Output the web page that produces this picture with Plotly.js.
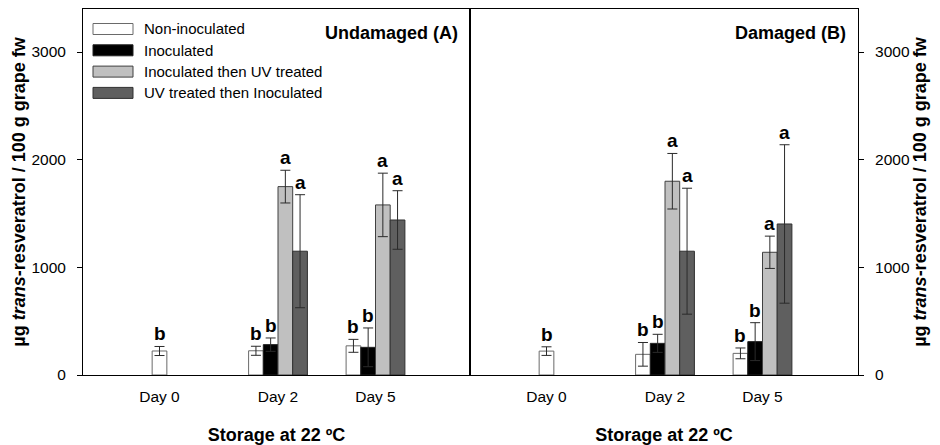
<!DOCTYPE html>
<html>
<head>
<meta charset="utf-8">
<script src="https://cdn.plot.ly/plotly-3.0.1.min.js"></script>
<style>html,body{margin:0;padding:0;background:#fff;}#chart{width:940px;height:445px;}</style>
</head>
<body>
<div id="chart"></div>
<script>
// ---- data ----
const days = ['Day 0', 'Day 2', 'Day 5'];
const seriesNames = ['Non-inoculated', 'Inoculated', 'Inoculated then UV treated', 'UV treated then Inoculated'];

// Undamaged (A)
const undNonInoc   = [223, 225, 271];
const undInoc      = [null, 282, 257];
const undInocUV    = [null, 1750, 1580];
const undUVInoc    = [null, 1150, 1440];
const undNonInocErr = [42, 42, 60];
const undInocErr    = [null, 62, 180];
const undInocUVErr  = [null, 152, 295];
const undUVInocErr  = [null, 525, 272];
const undLetters = [['b', null, null, null], ['b', 'b', 'a', 'a'], ['b', 'b', 'a', 'a']];

// Damaged (B)
const damNonInoc   = [222, 192, 201];
const damInoc      = [null, 294, 310];
const damInocUV    = [null, 1800, 1140];
const damUVInoc    = [null, 1150, 1403];
const damNonInocErr = [40, 110, 50];
const damInocErr    = [null, 84, 176];
const damInocUVErr  = [null, 258, 150];
const damUVInocErr  = [null, 585, 736];
const damLetters = [['b', null, null, null], ['b', 'b', 'a', 'a'], ['b', 'b', 'a', 'a']];

const yTitle = 'µg <i>trans</i>-resveratrol / 100 g grape fw';
const xTitle = 'Storage at 22 ºC';
const panelTitles = ['Undamaged (A)', 'Damaged (B)'];

// ---- styles / layout constants ----
const FONT = '"Liberation Sans Narrow", "Arial Narrow", "Liberation Sans", Arial, sans-serif';
const fills = ['#ffffff', '#000000', '#c0c0c0', '#5f5f5f'];
const outlines = ['#6a6a6a', '#202020', '#404040', '#303030'];
const dayPos = [76.5, 195, 292.5];   // category centres along each panel's axis
const barW = 14.7;

const panels = [
  {vals: [undNonInoc, undInoc, undInocUV, undUVInoc], errs: [undNonInocErr, undInocErr, undInocUVErr, undUVInocErr], letters: undLetters, xa: 'x', ya: 'y'},
  {vals: [damNonInoc, damInoc, damInocUV, damUVInoc], errs: [damNonInocErr, damInocErr, damInocUVErr, damUVInocErr], letters: damLetters, xa: 'x2', ya: 'y2'}
];

// offsets: centre the bars present in each day group
function offsetsFor(vals) {
  const offs = vals.map(() => days.map(() => null));
  days.forEach((d, di) => {
    const present = vals.map((s, si) => s[di] != null ? si : -1).filter(i => i >= 0);
    const n = present.length;
    present.forEach((si, k) => { offs[si][di] = (k - n / 2) * barW; });
  });
  return offs;
}

const traces = [];
const annotations = [];
panels.forEach((p, pi) => {
  const offs = offsetsFor(p.vals);
  p.vals.forEach((vals, si) => {
    traces.push({
      type: 'bar',
      name: seriesNames[si],
      x: dayPos,
      y: vals,
      width: barW,
      offset: offs[si].map(o => o == null ? 0 : o),
      xaxis: p.xa, yaxis: p.ya,
      marker: {color: fills[si], line: {color: outlines[si], width: 1}},
      error_y: {type: 'data', array: p.errs[si], visible: true, color: '#2a2a2a', thickness: 1, width: 5},
      showlegend: false,
      hoverinfo: 'x+y'
    });
    vals.forEach((v, di) => {
      const letter = p.letters[di][si];
      if (v == null || !letter) return;
      annotations.push({
        xref: p.xa, yref: p.ya,
        x: dayPos[di] + offs[si][di] + barW / 2,
        y: v + p.errs[si][di],
        text: '<b>' + letter + '</b>',
        showarrow: false, xanchor: 'center', yanchor: 'bottom', yshift: 0,
        font: {family: FONT, size: 19, color: '#000'}
      });
    });
  });
  annotations.push({
    xref: p.xa + ' domain', yref: p.ya + ' domain', x: 1, y: 1,
    xshift: -10, yshift: -24, xanchor: 'right', yanchor: 'middle',
    text: '<b>' + panelTitles[pi] + '</b>', showarrow: false,
    font: {family: FONT, size: 18, color: '#000'}
  });
});

// custom legend (in panel A)
const shapes = [];
const plotH = 366, plotWA = 387;
seriesNames.forEach((name, i) => {
  const cy = 20 + i * 21.3;
  shapes.push({
    type: 'rect', xref: 'x domain', yref: 'y domain',
    x0: 10 / plotWA, x1: 50 / plotWA,
    y0: 1 - (cy + 5.5) / plotH, y1: 1 - (cy - 5.5) / plotH,
    fillcolor: fills[i], line: {color: outlines[i], width: 1}
  });
  annotations.push({
    xref: 'x domain', yref: 'y domain', x: 59 / plotWA, y: 1 - cy / plotH,
    xanchor: 'left', yanchor: 'middle', text: name, showarrow: false,
    font: {family: FONT, size: 15, color: '#000'}
  });
});

const split = 387 / 775;
const yCommon = {
  range: [0, 3400], tickvals: [0, 1000, 2000, 3000], ticks: 'outside', ticklen: 5, tickcolor: '#000',
  showline: true, linecolor: '#000', linewidth: 1, mirror: true, showgrid: false, zeroline: false,
  tickfont: {family: FONT, size: 15.5, color: '#000'}, ticklabelstandoff: 8,
  fixedrange: true
};
const yTitleFont = {family: FONT, size: 18, color: '#000'};
const xCommon = {
  tickvals: dayPos, ticktext: days, ticks: '', showline: true, linecolor: '#000', linewidth: 1, mirror: true,
  showgrid: false, zeroline: false, tickfont: {family: FONT, size: 15.5, color: '#000'}, ticklabelstandoff: 7,
  title: {text: '<b>' + xTitle + '</b>', font: {family: FONT, size: 18, color: '#000'}, standoff: 24},
  fixedrange: true
};

const layout = {
  width: 940, height: 445,
  margin: {l: 83, r: 82, t: 9, b: 70},
  paper_bgcolor: '#fff', plot_bgcolor: '#fff',
  barmode: 'overlay',
  showlegend: false,
  xaxis: Object.assign({}, xCommon, {domain: [0, split], range: [0, 387], anchor: 'y'}),
  xaxis2: Object.assign({}, xCommon, {domain: [split, 1], range: [0, 388], anchor: 'y2'}),
  yaxis: Object.assign({}, yCommon, {anchor: 'x', side: 'left',
    title: {text: '<b>' + yTitle + '</b>', font: yTitleFont, standoff: 1}}),
  yaxis2: Object.assign({}, yCommon, {anchor: 'x2', side: 'right',
    title: {text: '<b>' + yTitle + '</b>', font: yTitleFont, standoff: 4}}),
  annotations: annotations,
  shapes: shapes,
  font: {family: FONT, color: '#000'}
};

Plotly.newPlot('chart', traces, layout, {displayModeBar: false, staticPlot: true});
</script>
</body>
</html>
